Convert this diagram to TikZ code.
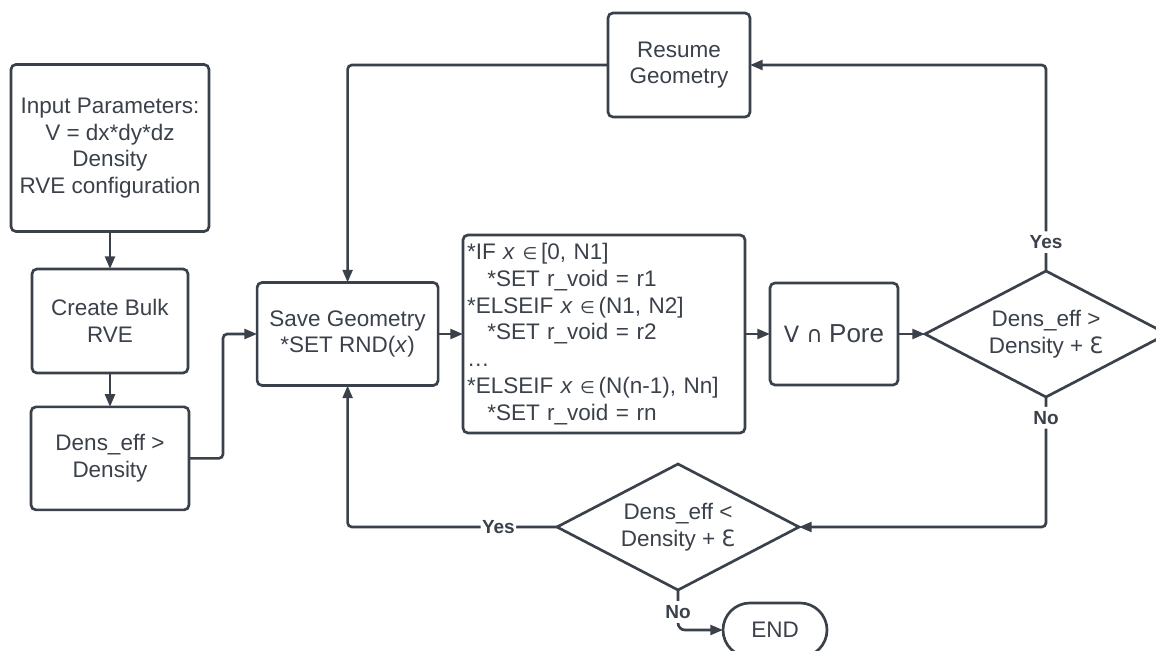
\documentclass[tikz,border=0pt]{standalone}
\usepackage{fontspec}
\setmainfont{Liberation Sans}
\newfontfamily\dvfont{DejaVu Sans}
\usetikzlibrary{arrows.meta,shapes.geometric}
\definecolor{chartInk}{RGB}{58,65,74}
\newcommand{\elemof}{{\dvfont\fontsize{12}{14}\selectfont ∈}}
\newcommand{\epsopen}{{\dvfont Ɛ}}
\tikzset{
  proc/.style={draw=chartInk, line width=1.9pt, rounded corners=3.5pt, fill=white, text=chartInk,
    align=center, font=\fontsize{16}{19}\selectfont, inner sep=2pt, outer sep=0pt},
  decide/.style={diamond, aspect=1.92, draw=chartInk, line width=1.9pt, fill=white, text=chartInk,
    align=center, font=\fontsize{16}{19}\selectfont, inner sep=0pt, outer sep=0pt,
    minimum width=6.05cm, minimum height=3.15cm},
  flow/.style={-{Triangle[length=9pt,width=7pt]}, line width=1.9pt, draw=chartInk, rounded corners=3pt},
  branch/.style={fill=white, text=chartInk, font=\fontsize{13.5}{16}\selectfont\bfseries,
    inner xsep=1pt, inner ysep=3pt}
}

\begin{document}
\begin{tikzpicture}[x=1cm,y=1cm]
    \useasboundingbox (0,0) rectangle (28.9,16.25);
    \node[proc, minimum width=4.95cm, minimum height=4.175cm] (input) at (2.75,12.55)
      {Input Parameters:\\V = dx*dy*dz\\Density\\RVE configuration};
    \node[proc, minimum width=3.9cm, minimum height=2.6cm] (bulk) at (2.75,8.225) {Create Bulk\\RVE};
    \node[proc, minimum width=3.95cm, minimum height=2.575cm] (densgt) at (2.75,4.79) {Dens\_eff >\\Density};
    \node[proc, minimum width=4.525cm, minimum height=2.575cm] (save) at (8.69,7.9)
      {Save Geometry\\{}*SET RND(\textit{x})};
    \node[proc, minimum width=7.05cm, minimum height=4.95cm, align=left, text width=6.85cm] (ifbox) at (15.1,7.9)
      {*IF \textit{x} \elemof\,[0, N1]\\
       \hspace*{0.9em}*SET r\_void = r1\\
       {}*ELSEIF \textit{x} \elemof\,(N1, N2]\\
       \hspace*{0.9em}*SET r\_void = r2\\
       \ldots\\
       {}*ELSEIF \textit{x} \elemof\,(N(n-1), Nn]\\
       \hspace*{0.9em}*SET r\_void = rn};
    \node[proc, minimum width=3.2cm, minimum height=2.55cm] (vpore) at (20.85,7.9)
      {{\dvfont V ∩} {\fontsize{18.5}{22}\selectfont Pore}};
    \node[decide] (check) at (26.15,7.9) {Dens\_eff >\\Density + \epsopen};
    \node[proc, minimum width=3.55cm, minimum height=2.6cm] (resume) at (16.975,14.625) {Resume\\Geometry};
    \node[decide] (loop) at (16.95,3.075) {Dens\_eff <\\Density + \epsopen};
    \node[proc, rounded corners=0.675cm, minimum width=2.6cm, minimum height=1.35cm] (finish) at (19.375,0.5) {END};

    \draw[flow] (input.south) -- (bulk.north);
    \draw[flow] (bulk.south) -- (densgt.north);
    \draw[flow] (densgt.east) -- ++(0.85,0) |- (save.west);
    \draw[flow] (save.east) -- (ifbox.west);
    \draw[flow] (ifbox.east) -- (vpore.west);
    \draw[flow] (vpore.east) -- (check.west);
    \draw[flow] (check.north) |- node[branch, pos=0.07] {Yes} (resume.east);
    \draw[flow] (resume.west) -| (save.north);
    \draw[flow] (check.south) |- node[branch, pos=0.08] {No} (loop.east);
    \draw[flow] (loop.west) -| node[branch, pos=0.14] {Yes} (save.south);
    \draw[flow, rounded corners=5pt] (loop.south) |- node[branch, pos=0.275] {No} (finish.west);
\end{tikzpicture}
\end{document}
